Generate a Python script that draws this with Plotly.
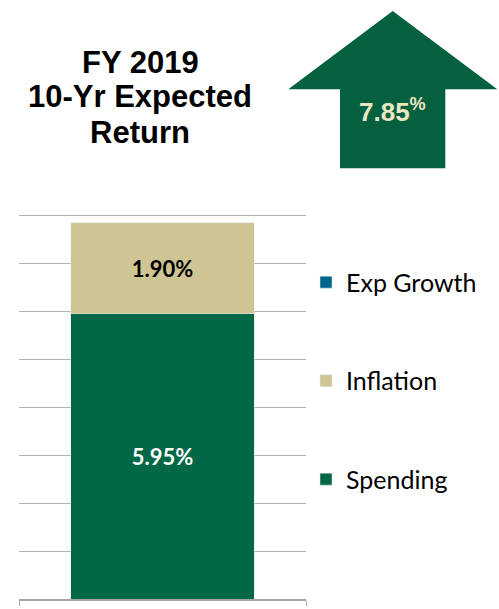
import plotly.graph_objects as go

categories = ["FY 2019"]
spending = [5.95]
inflation = [1.90]
exp_growth = [0.0]
total_return = 7.85
title_lines = ["FY 2019", "10-Yr Expected", "Return"]

GREEN = "#006747"
TAN = "#CFC493"
TEAL = "#00668C"
ARROW = "#04603F"

W, H = 499, 609
L, R, T, B = 19, 193, 211, 5
pw = W - L - R
ph = H - T - B


def px(x):
    return (x - L) / pw


def py(y):
    return (H - B - y) / ph


fig = go.Figure()
fig.add_trace(go.Bar(
    x=categories, y=spending, name="Spending", marker_color=GREEN,
    width=0.64, legendgroup="s", legendrank=3,
    texttemplate="<b>%{y:.2f}%</b>", textposition="inside", insidetextanchor="middle",
    textfont=dict(family="Lato", size=22, color="white"),
))
fig.add_trace(go.Bar(
    x=categories, y=inflation, name="Inflation", marker_color=TAN,
    width=0.64, legendgroup="i", legendrank=2,
    texttemplate="<b>%{y:.2f}%</b>", textposition="inside", insidetextanchor="middle",
    textfont=dict(family="Lato", size=22, color="black"),
))
fig.add_trace(go.Bar(
    x=categories, y=exp_growth, name="Exp Growth", marker_color=TEAL,
    width=0.64, legendgroup="e", legendrank=1, text=[""], textposition="none",
))

# Arrow decoration
pts = [(392.7, 8.3), (497.3, 87.7), (445.3, 87.7), (445.3, 167.7),
       (340.0, 167.7), (340.0, 87.7), (288.3, 87.7)]
path = "M " + " L ".join(f"{px(x):.5f},{py(y):.5f}" for x, y in pts) + " Z"
fig.add_shape(type="path", xref="paper", yref="paper", path=path,
              fillcolor=ARROW, line=dict(width=0), layer="above")

fig.add_annotation(
    x=px(392), y=py(109), xref="paper", yref="paper",
    text=f"<b>{total_return:.2f}<sup>%</sup></b>", showarrow=False,
    font=dict(family="Liberation Sans, Arial", size=26, color="#EDE6C3"),
    xanchor="center", yanchor="middle",
)
for line, yc in zip(title_lines, [61, 95, 131]):
    fig.add_annotation(
        x=px(140), y=py(yc), xref="paper", yref="paper",
        text=f"<b>{line}</b>", showarrow=False,
        font=dict(family="Liberation Sans, Arial", size=31, color="black"),
        xanchor="center", yanchor="middle", align="center",
    )

fig.update_layout(
    width=W, height=H,
    margin=dict(l=L, r=R, t=T, b=B, pad=0),
    barmode="stack",
    plot_bgcolor="white", paper_bgcolor="white",
    showlegend=True,
    legend=dict(
        x=1.0, xanchor="left", y=py(260), yanchor="top",
        font=dict(family="Lato", size=25, color="black"),
        traceorder="grouped", tracegroupgap=63,
        bgcolor="rgba(0,0,0,0)",
    ),
    xaxis=dict(
        range=[-0.5, 0.5], showticklabels=False, showgrid=False,
        showline=True, linecolor="#A6A6A6", linewidth=1.5,
        ticks="outside", tickson="boundaries", ticklen=5, tickcolor="#A6A6A6",
        fixedrange=True,
    ),
    yaxis=dict(
        range=[0, 8.1], dtick=1, showticklabels=False, showgrid=True,
        gridcolor="#B0B0B0", gridwidth=1.3, zeroline=False, showline=False,
        ticks="", fixedrange=True,
    ),
)

fig.write_html("out.html")
